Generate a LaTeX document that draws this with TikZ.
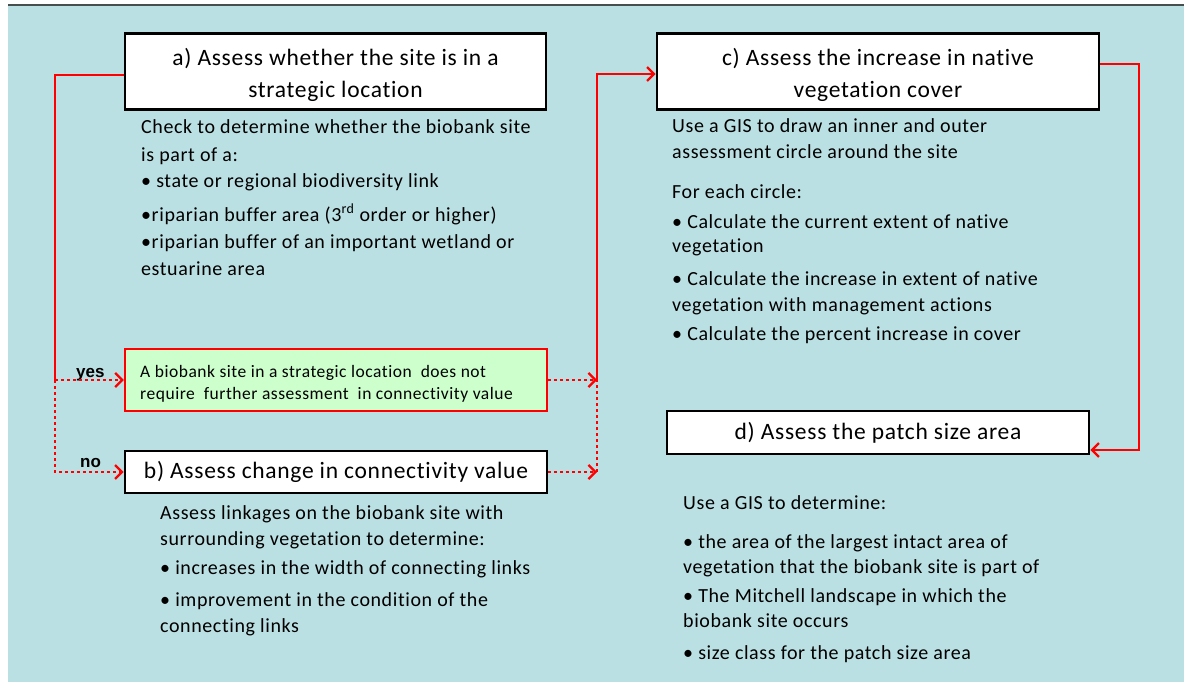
\documentclass[tikz,border=0pt]{standalone}
\usepackage{fontspec}
\setmainfont{Carlito}[LetterSpace=3, Ligatures={NoCommon}]
\newfontfamily\labfont{Liberation Sans}
\usetikzlibrary{arrows.meta}
\definecolor{bgblue}{RGB}{187,224,227}
\definecolor{boxgreen}{RGB}{204,255,204}
\definecolor{topline}{RGB}{70,78,78}
\definecolor{linered}{RGB}{255,0,0}
\begin{document}
\begin{tikzpicture}[x=1pt,y=-1pt,
  headbox/.style={draw=black, line width=2.8pt, fill=white, inner sep=0pt, align=center,
    font=\fontsize{23.5}{32}\selectfont},
  greenbox/.style={draw=linered, line width=2.4pt, fill=boxgreen, inner sep=0pt},
  body/.style={anchor=base west, inner sep=0pt, font=\fontsize{20}{26}\selectfont},
  small/.style={anchor=base west, inner sep=0pt, font=\fontsize{17.5}{22}\selectfont},
  lab/.style={anchor=base west, inner sep=0pt, font=\labfont\bfseries\fontsize{17}{18}\selectfont},
  solidcon/.style={draw=linered, line width=2.2pt},
  dotcon/.style={draw=linered, line width=2.8pt, dash pattern=on 3pt off 3pt},
  tip/.style={-{Straight Barb[length=7pt,width=14pt,line width=2.2pt]}}
]
\useasboundingbox (0,0) rectangle (1184,682);
\fill[bgblue] (8,5) rectangle (1184,682);
\draw[topline, line width=1.5pt] (8,5) -- (1184,5);

% boxes
\node[headbox, minimum width=421pt, minimum height=76pt] (a) at (335.5,71.5)
  {\rule{0pt}{25pt}a) Assess whether the site is in a\\strategic location};
\node[headbox, minimum width=442pt, minimum height=76pt] (c) at (878,71.5)
  {\rule{0pt}{25pt}c) Assess the increase in native\\vegetation cover};
\node[greenbox, minimum width=422pt, minimum height=62pt] (g) at (336,380) {};
\node[headbox, minimum width=422pt, minimum height=42pt] (b) at (336,472)
  {b) Assess change in connectivity value};
\node[headbox, minimum width=422pt, minimum height=43pt] (d) at (878,432.5)
  {d) Assess the patch size area};

% green box text
\node[small] (g1) at (140,377) {A biobank site in a strategic location \ does not};
\node[small] (g2) at (140,399) {require \ further assessment \ in connectivity value};

% a text
\node[body] (a1) at (141,134) {Check to determine whether the biobank site};
\node[body] (a2) at (141,161) {is part of a:};
\node[body] (a3) at (141,188) {• state or regional biodiversity link};
\node[body] (a4) at (141,221) {•riparian buffer area (3\textsuperscript{rd} order or higher)};
\node[body] (a5) at (141,248) {•riparian buffer of an important wetland or};
\node[body] (a6) at (141,275) {estuarine area};

% c text
\node[body] (c1) at (672,133) {Use a GIS to draw an inner and outer};
\node[body] (c2) at (672,159) {assessment circle around the site};
\node[body] (c3) at (672,198) {For each circle:};
\node[body] (c4) at (672,228) {• Calculate the current extent of native};
\node[body] (c5) at (672,252) {vegetation};
\node[body] (c6) at (672,285) {• Calculate the increase in extent of native};
\node[body] (c7) at (672,311) {vegetation with management actions};
\node[body] (c8) at (672,340) {• Calculate the percent increase in cover};

% b text
\node[body] (b1) at (160,519) {Assess linkages on the biobank site with};
\node[body] (b2) at (160,545) {surrounding vegetation to determine:};
\node[body] (b3) at (160,574) {• increases in the width of connecting links};
\node[body] (b4) at (160,606) {• improvement in the condition of the};
\node[body] (b5) at (160,632) {connecting links};

% d text
\node[body] (d1) at (683,509) {Use a GIS to determine:};
\node[body] (d2) at (683,548) {• the area of the largest intact area of};
\node[body] (d3) at (683,573) {vegetation that the biobank site is part of};
\node[body] (d4) at (683,602) {• The Mitchell landscape in which the};
\node[body] (d5) at (683,627) {biobank site occurs};
\node[body] (d6) at (683,659) {• size class for the patch size area};

% labels
\node[lab] (yes) at (76,377) {yes};
\node[lab] (no) at (80,467) {no};

% connector points
\coordinate (split) at (55,380);
\coordinate (join) at (597,380);
\coordinate (right) at (1139,450);

% connectors
\draw[solidcon] ([yshift=-3.5pt]a.west) -| (split);
\draw[dotcon, tip] (split) -- (g.west);
\draw[dotcon, tip] (split) |- (b.west);
\draw[dotcon, tip] (g.east) -- (join);
\draw[dotcon, tip] (b.east) -- (b.east -| join);
\draw[dotcon] (b.east -| join) -- (join);
\draw[solidcon, tip] (join) |- ([yshift=-2.5pt]c.west);
\draw[solidcon, tip] ([yshift=7.5pt]c.east) -| (right) -- (right -| d.east);
\end{tikzpicture}
\end{document}
